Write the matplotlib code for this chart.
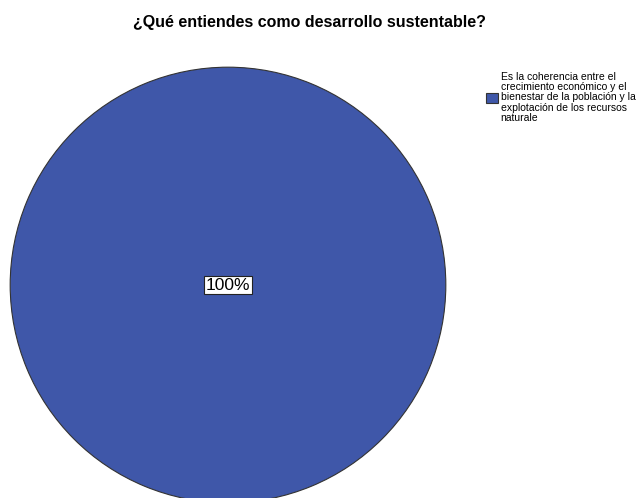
import matplotlib
matplotlib.use("Agg")
import matplotlib.pyplot as plt

# data
categories = ["Es la coherencia entre el\ncrecimiento económico y el\n"
              "bienestar de la población y la\nexplotación de los recursos\nnaturale"]
values = [100]
colors = ["#3f57a9"]

fig = plt.figure(figsize=(6.4, 4.98), dpi=100)
ax = fig.add_axes([8 / 640, -7 / 498, 440 / 640, 440 / 498])

wedges, texts, autotexts = ax.pie(
    values, colors=colors, startangle=90, counterclock=False,
    autopct="%1.0f%%", pctdistance=0.0,
    wedgeprops=dict(edgecolor="#333333", linewidth=0.8),
    textprops=dict(fontsize=12.5, family="Liberation Sans"),
)
for t in autotexts:
    t.set_bbox(dict(facecolor="white", edgecolor="#222222", linewidth=0.8, pad=1.2))
ax.set_aspect("equal")
ax.set_xlim(-1.01, 1.01)
ax.set_ylim(-1.01, 1.01)

fig.text(0.484, 0.955, "¿Qué entiendes como desarrollo sustentable?",
         ha="center", va="center", fontsize=11.5, fontweight="bold",
         family="Liberation Sans")

leg = fig.legend(wedges, categories, loc="upper left",
                 bbox_to_anchor=(0.745, 0.875), frameon=False,
                 prop=dict(family="Liberation Sans", size=7.5),
                 handlelength=1.1, handleheight=1.1, handletextpad=0.3,
                 labelspacing=0.2)
for txt in leg.get_texts():
    txt.set_linespacing(1.05)

fig.savefig("out.png", dpi=100)
